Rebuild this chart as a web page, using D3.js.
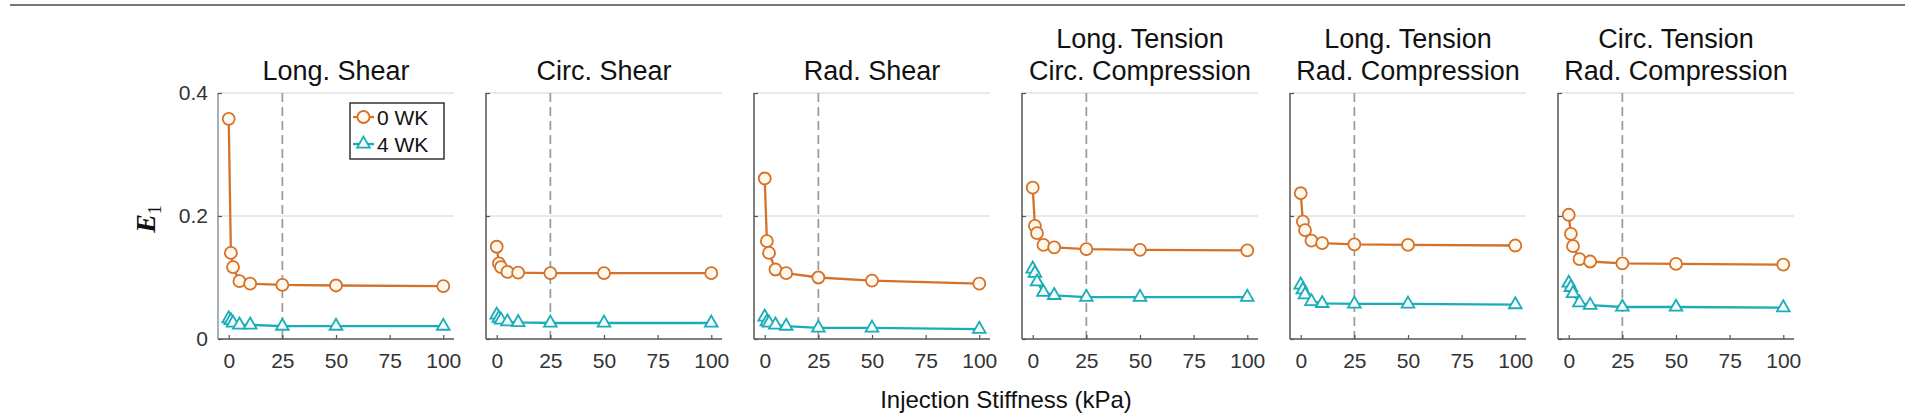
<!DOCTYPE html>
<html><head><meta charset="utf-8">
<script src="https://cdn.jsdelivr.net/npm/d3@7"></script>
<style>body{margin:0;background:#fff;}svg{display:block;}</style>
</head><body>
<svg id="c" width="1920" height="418"></svg>
<script>
// ---------- data ----------
const xValues = [0, 1, 2, 5, 10, 25, 50, 100];
const panelTitles = [
  ["Long. Shear"],
  ["Circ. Shear"],
  ["Rad. Shear"],
  ["Long. Tension", "Circ. Compression"],
  ["Long. Tension", "Rad. Compression"],
  ["Circ. Tension", "Rad. Compression"]
];
const wk0 = [
  [0.358, 0.140, 0.117, 0.094, 0.090, 0.088, 0.087, 0.086],
  [0.150, 0.123, 0.117, 0.109, 0.108, 0.107, 0.107, 0.107],
  [0.261, 0.159, 0.140, 0.113, 0.107, 0.100, 0.095, 0.090],
  [0.246, 0.184, 0.172, 0.153, 0.149, 0.146, 0.145, 0.144],
  [0.237, 0.191, 0.177, 0.160, 0.156, 0.154, 0.153, 0.152],
  [0.202, 0.171, 0.151, 0.130, 0.126, 0.123, 0.122, 0.121]
];
const wk4 = [
  [0.033, 0.030, 0.026, 0.023, 0.023, 0.021, 0.021, 0.021],
  [0.039, 0.034, 0.031, 0.028, 0.027, 0.026, 0.026, 0.026],
  [0.036, 0.028, 0.026, 0.023, 0.021, 0.018, 0.018, 0.016],
  [0.114, 0.107, 0.093, 0.076, 0.071, 0.068, 0.068, 0.068],
  [0.088, 0.080, 0.072, 0.061, 0.058, 0.057, 0.057, 0.056],
  [0.091, 0.084, 0.074, 0.059, 0.055, 0.052, 0.052, 0.051]
];
const xTicks = [0, 25, 50, 75, 100];
const yTicks = [0, 0.2, 0.4];
const yTickLabels = ["0", "0.2", "0.4"];
const seriesNames = ["0 WK", "4 WK"];
const refLine = 25;

// ---------- style ----------
const ORANGE = "#D5722A", TEAL = "#1AADB8";
const svg = d3.select("#c");
const font = "'Liberation Sans', Arial, Helvetica, sans-serif";

svg.append("line").attr("x1", 10).attr("x2", 1905).attr("y1", 5).attr("y2", 5)
  .attr("stroke", "#777").attr("stroke-width", 2);

const left0 = 218, step = 268, pw = 236, yTop = 93, yBot = 339;
const y = d3.scaleLinear().domain([0, 0.4]).range([yBot, yTop]);
const tri = d3.symbol().type(d3.symbolTriangle).size(70);

panelTitles.forEach((t, i) => {
  const x0 = left0 + i * step;
  const x = d3.scaleLinear().domain([-5, 105]).range([x0, x0 + pw]);
  const g = svg.append("g");

  // grid
  g.selectAll(".grid").data([0.2, 0.4]).join("line")
    .attr("x1", x0).attr("x2", x0 + pw).attr("y1", d => y(d)).attr("y2", d => y(d))
    .attr("stroke", "#e3e3e3").attr("stroke-width", 1.5);
  // reference dashed line
  g.append("line").attr("x1", x(refLine)).attr("x2", x(refLine)).attr("y1", yTop).attr("y2", yBot)
    .attr("stroke", "#999").attr("stroke-width", 1.7).attr("stroke-dasharray", "9,5");

  // axes
  const xa = g.append("g").attr("transform", `translate(0,${yBot})`)
    .call(d3.axisBottom(x).tickValues(xTicks).tickSize(-4).tickPadding(14).tickFormat(d3.format("d")));
  xa.select(".domain").attr("stroke", "#555").attr("stroke-width", 1.5).attr("d", `M${x0},0H${x0 + pw}`);
  xa.selectAll(".tick line").attr("stroke", "#555").attr("stroke-width", 1.2);
  xa.selectAll("text").attr("font-family", font).attr("font-size", 21).attr("fill", "#333");

  const ya = g.append("g").attr("transform", `translate(${x0},0)`)
    .call(d3.axisLeft(y).tickValues(yTicks).tickSize(-4).tickPadding(10)
      .tickFormat((d, k) => i === 0 ? yTickLabels[k] : ""));
  ya.select(".domain").attr("stroke", i === 0 ? "#8895a3" : "#555").attr("stroke-width", 1.5)
    .attr("d", `M0,${yBot}V${yTop}`);
  ya.selectAll(".tick line").attr("stroke", "#555").attr("stroke-width", 1.2);
  ya.selectAll("text").attr("font-family", font).attr("font-size", 21).attr("fill", "#333");

  // lines
  const line = d3.line().x((d, k) => x(xValues[k])).y(d => y(d));
  g.append("path").datum(wk4[i]).attr("d", line).attr("fill", "none")
    .attr("stroke", TEAL).attr("stroke-width", 2.3);
  g.append("path").datum(wk0[i]).attr("d", line).attr("fill", "none")
    .attr("stroke", ORANGE).attr("stroke-width", 2.3);

  g.selectAll(".t4").data(wk4[i]).join("path")
    .attr("d", tri).attr("transform", (d, k) => `translate(${x(xValues[k])},${y(d)})`)
    .attr("fill", "#f4fbfc").attr("stroke", TEAL).attr("stroke-width", 1.8);
  g.selectAll(".c0").data(wk0[i]).join("circle")
    .attr("cx", (d, k) => x(xValues[k])).attr("cy", d => y(d)).attr("r", 6)
    .attr("fill", "#fff8ec").attr("stroke", ORANGE).attr("stroke-width", 1.8);

  // title
  const cx = x0 + pw / 2;
  const tt = g.append("text").attr("text-anchor", "middle").attr("font-family", font)
    .attr("font-size", 27).attr("fill", "#111");
  if (t.length === 1) {
    tt.append("tspan").attr("x", cx).attr("y", 80).text(t[0]);
  } else {
    tt.append("tspan").attr("x", cx).attr("y", 48).text(t[0]);
    tt.append("tspan").attr("x", cx).attr("y", 80).text(t[1]);
  }
});

// y label E1
const yl = svg.append("text").attr("transform", "translate(155,219) rotate(-90)")
  .attr("text-anchor", "middle").attr("font-family", "'Liberation Serif', 'Times New Roman', serif")
  .attr("font-size", 28).attr("font-weight", "bold").attr("fill", "#111");
yl.append("tspan").attr("font-style", "italic").text("E");
yl.append("tspan").attr("font-size", 18).attr("dy", 6).attr("font-weight", "normal").text("1");

// x label
svg.append("text").attr("x", left0 + (5 * step + pw) / 2).attr("y", 408).attr("text-anchor", "middle")
  .attr("font-family", font).attr("font-size", 24).attr("fill", "#111").text("Injection Stiffness (kPa)");

// legend
const lg = svg.append("g");
lg.append("rect").attr("x", 350).attr("y", 103).attr("width", 94).attr("height", 56)
  .attr("fill", "#fff").attr("stroke", "#333").attr("stroke-width", 1.5);
seriesNames.forEach((n, k) => {
  const yy = k === 0 ? 117 : 144;
  const col = k === 0 ? ORANGE : TEAL;
  lg.append("line").attr("x1", 353).attr("x2", 374).attr("y1", yy).attr("y2", yy)
    .attr("stroke", col).attr("stroke-width", 2.3);
  if (k === 0) {
    lg.append("circle").attr("cx", 363.5).attr("cy", yy).attr("r", 6)
      .attr("fill", "#fff8ec").attr("stroke", col).attr("stroke-width", 1.8);
  } else {
    lg.append("path").attr("d", tri).attr("transform", `translate(363.5,${yy})`)
      .attr("fill", "#f4fbfc").attr("stroke", col).attr("stroke-width", 1.8);
  }
  lg.append("text").attr("x", 377).attr("y", yy + 7.5).attr("font-family", font)
    .attr("font-size", 21).attr("fill", "#111").text(n);
});
</script>
</body></html>
